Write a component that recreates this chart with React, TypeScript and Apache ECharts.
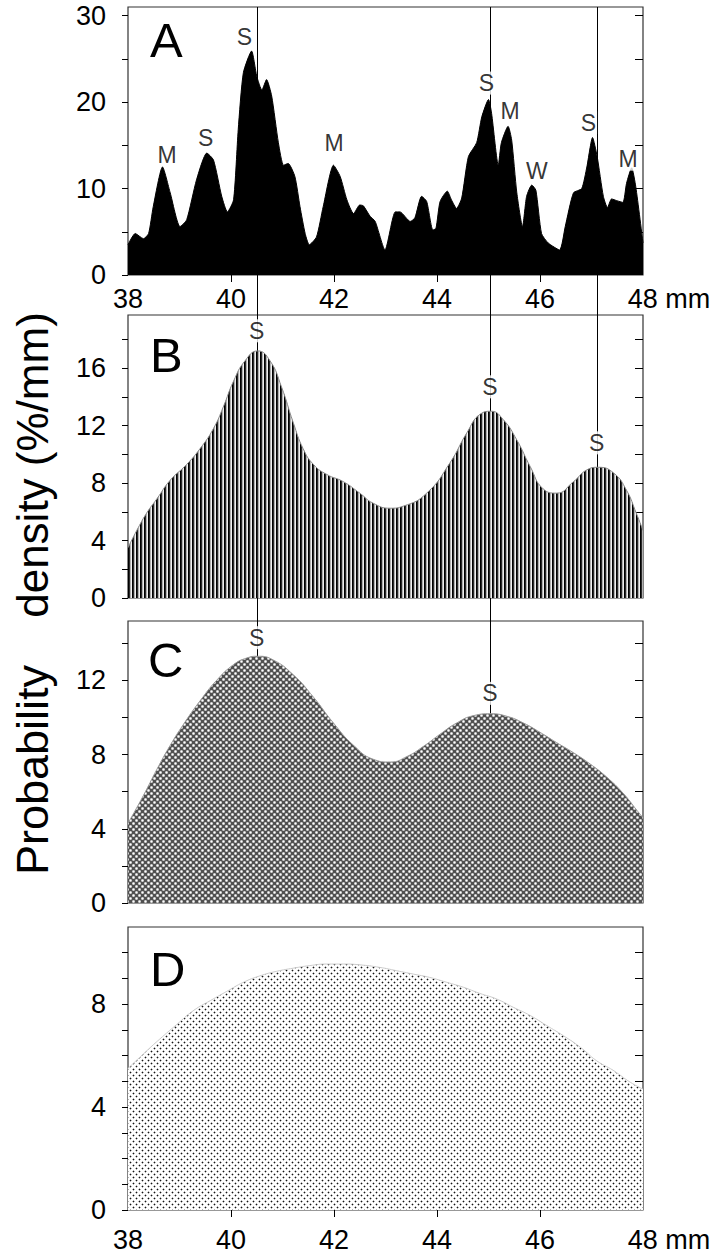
import React, { useEffect, useRef } from 'react';
import * as echarts from 'echarts';

// ---------- data ----------
const aX = [38.0, 38.14, 38.3, 38.4, 38.49, 38.67, 38.82, 39.01, 39.14, 39.33, 39.53, 39.66, 39.82, 39.93, 40.05, 40.14, 40.24, 40.4, 40.5, 40.6, 40.69, 40.79, 40.92, 41.02, 41.11, 41.24, 41.34, 41.44, 41.52, 41.66, 41.79, 41.99, 42.12, 42.25, 42.38, 42.5, 42.57, 42.7, 42.8, 42.99, 43.19, 43.28, 43.48, 43.57, 43.7, 43.8, 43.92, 43.98, 44.06, 44.2, 44.28, 44.38, 44.48, 44.61, 44.77, 44.87, 45.0, 45.06, 45.19, 45.25, 45.38, 45.45, 45.55, 45.66, 45.74, 45.84, 45.92, 46.03, 46.16, 46.38, 46.49, 46.65, 46.81, 46.91, 47.02, 47.11, 47.23, 47.31, 47.39, 47.49, 47.61, 47.68, 47.78, 47.86, 48.0];
const aY = [3.5, 4.8, 4.2, 4.8, 7.9, 12.5, 9.5, 5.6, 6.4, 11.0, 14.1, 13.3, 9.1, 7.3, 8.7, 16.8, 23.4, 25.9, 23.0, 21.4, 22.6, 20.7, 15.3, 12.7, 12.9, 11.4, 7.9, 4.8, 3.5, 4.4, 7.9, 12.7, 11.4, 8.7, 7.1, 8.1, 8.0, 6.8, 6.2, 2.9, 7.3, 7.3, 6.2, 6.6, 9.1, 8.5, 5.2, 5.4, 8.5, 9.7, 8.7, 7.7, 8.9, 13.7, 15.3, 18.3, 20.3, 18.7, 12.7, 15.3, 17.2, 15.6, 9.5, 5.6, 9.1, 10.4, 9.8, 4.8, 3.7, 2.9, 5.6, 9.5, 10.0, 12.5, 15.9, 13.7, 9.1, 7.8, 8.8, 8.6, 8.4, 10.6, 12.4, 10.2, 3.7];

const bX = [38.0, 38.17, 38.36, 38.56, 38.82, 39.14, 39.4, 39.66, 39.85, 40.05, 40.27, 40.52, 40.76, 40.98, 41.21, 41.4, 41.6, 41.86, 42.18, 42.5, 42.76, 43.09, 43.35, 43.8, 44.25, 44.58, 44.84, 45.05, 45.29, 45.55, 45.81, 46.06, 46.32, 46.65, 46.9, 47.13, 47.43, 47.68, 47.87, 48.0];
const bY = [3.5, 4.7, 5.9, 6.9, 8.2, 9.3, 10.4, 11.8, 13.3, 15.1, 16.5, 17.2, 16.5, 14.7, 12.2, 10.4, 9.3, 8.6, 8.1, 7.3, 6.6, 6.25, 6.4, 7.3, 9.4, 11.5, 12.8, 13.0, 12.4, 11.0, 9.15, 7.6, 7.3, 8.1, 8.9, 9.1, 8.7, 7.5, 5.9, 4.7];

const cX = [38.0, 38.3, 38.56, 38.82, 39.07, 39.4, 39.72, 40.05, 40.3, 40.52, 40.82, 41.21, 41.6, 41.99, 42.38, 42.76, 43.09, 43.42, 43.74, 44.06, 44.38, 44.71, 45.04, 45.35, 45.68, 46.0, 46.32, 46.65, 46.97, 47.29, 47.62, 47.88, 48.0];
const cY = [4.3, 5.8, 7.2, 8.5, 9.6, 10.9, 12.0, 12.85, 13.2, 13.3, 13.1, 12.3, 11.1, 9.7, 8.5, 7.75, 7.6, 7.9, 8.45, 9.1, 9.7, 10.1, 10.2, 10.07, 9.7, 9.2, 8.65, 8.1, 7.5, 6.8, 5.9, 5.0, 4.6];

const dX = [38.0, 38.3, 38.62, 38.94, 39.27, 39.6, 39.92, 40.24, 40.56, 40.89, 41.21, 41.53, 41.86, 42.18, 42.5, 42.89, 43.22, 43.54, 43.86, 44.19, 44.51, 44.83, 45.16, 45.48, 45.81, 46.13, 46.45, 46.78, 47.1, 47.42, 47.75, 48.0];
const dY = [5.5, 6.07, 6.65, 7.2, 7.75, 8.14, 8.5, 8.85, 9.1, 9.28, 9.4, 9.5, 9.56, 9.56, 9.53, 9.43, 9.3, 9.17, 9.04, 8.85, 8.66, 8.42, 8.2, 7.88, 7.56, 7.17, 6.78, 6.33, 5.8, 5.43, 4.97, 4.7];

const xLabelValues = [38, 40, 42, 44, 46, 48];
const xTickValues = [40, 42, 44, 46];
const yMaxes = [31, 19.7, 15.2, 11];
const yLabelValues = [[0, 10, 20, 30], [0, 4, 8, 12, 16], [0, 4, 8, 12], [0, 4, 8]];
const yLeftTicks = [[0, 5, 10, 15, 20, 25, 30], [0, 2, 4, 6, 8, 10, 12, 14, 16, 18], [0, 2, 4, 6, 8, 10, 12, 14], [0, 1, 2, 3, 4, 5, 6, 7, 8, 9, 10]];
const yRightTicks = [[5, 10, 15, 20, 25, 30], [2, 4, 6, 8, 10, 12, 14, 16, 18], [2, 4, 6, 8, 10, 12, 14], [1, 2, 3, 4, 5, 6, 7, 8, 9, 10]];
const panelLetters = ['A', 'B', 'C', 'D'];

const aPeakNames = ['M', 'S', 'S', 'M', 'S', 'M', 'W', 'S', 'M'];
const aPeakX = [38.76, 39.51, 40.26, 42.0, 44.96, 45.42, 45.94, 46.94, 47.71];
const aPeakY = [13.9, 15.9, 27.5, 15.3, 22.2, 19.0, 12.05, 17.6, 13.4];
const bPeakX = [40.5, 45.03, 47.1];
const bPeakY = [18.6, 14.7, 10.8];
const cPeakX = [40.5, 45.03];
const cPeakY = [14.3, 11.3];

const markerX = [40.5, 45.03, 47.1];
const markerEndPanel = [2, 2, 1];
const markerEndY = [13.3, 10.2, 9.1];

const yTitleTop = 'density (%/mm)';
const yTitleBottom = 'Probability';

const FONT = '"Liberation Sans", Arial, Helvetica, sans-serif';

function zip(xs: number[], ys: number[]) {
  return xs.map((x, i) => [x, ys[i]]);
}

function makeTile(w: number, h: number, colors: string[]): string {
  const c = document.createElement('canvas');
  c.width = w;
  c.height = h;
  const ctx = c.getContext('2d')!;
  for (let y = 0; y < h; y++) {
    for (let x = 0; x < w; x++) {
      ctx.fillStyle = colors[y * w + x];
      ctx.fillRect(x, y, 1, 1);
    }
  }
  return c.toDataURL('image/png');
}

function stripeTile() {
  return makeTile(4, 1, ['#000', '#2a2a2a', '#b0b0b0', '#f0f0f0']);
}
function checkTile() {
  // white "+" crosses on a dark field, diagonal lattice
  const w = 6, h = 6;
  const cols: string[] = new Array(w * h).fill('#505050');
  const put = (x: number, y: number, col: string) => {
    const xx = (x + w) % w, yy = (y + h) % h;
    cols[yy * w + xx] = col;
  };
  for (const [cx, cy] of [[1, 1], [4, 4]]) {
    put(cx - 1, cy - 1, '#949494'); put(cx + 1, cy - 1, '#949494');
    put(cx - 1, cy + 1, '#949494'); put(cx + 1, cy + 1, '#949494');
    put(cx - 1, cy, '#cfcfcf'); put(cx + 1, cy, '#cfcfcf');
    put(cx, cy - 1, '#cfcfcf'); put(cx, cy + 1, '#cfcfcf');
    put(cx, cy, '#fff');
  }
  return makeTile(w, h, cols);
}
function dotTile() {
  const w = 6, h = 6;
  const cols: string[] = new Array(w * h).fill('#fff');
  const put = (x: number, y: number, col: string) => {
    const xx = (x + w) % w, yy = (y + h) % h;
    cols[yy * w + xx] = col;
  };
  for (const [cx, cy] of [[1, 1], [4, 4]]) {
    put(cx - 1, cy, '#b5b5b5'); put(cx + 1, cy, '#b5b5b5');
    put(cx, cy - 1, '#b5b5b5'); put(cx, cy + 1, '#b5b5b5');
    put(cx, cy, '#141414');
  }
  return makeTile(w, h, cols);
}

export default function App() {
  const ref = useRef<HTMLDivElement>(null);
  useEffect(() => {
    document.body.style.margin = '0';
    const chart = echarts.init(ref.current!, null, { renderer: 'svg' });

    const grids = [
      { left: 128, top: 7, width: 515, height: 268 },
      { left: 128, top: 315, width: 515, height: 283 },
      { left: 128, top: 621, width: 515, height: 282 },
      { left: 128, top: 927, width: 515, height: 283 },
    ].map((g) => ({ ...g, show: true, borderColor: '#333', borderWidth: 1.2, backgroundColor: 'transparent', containLabel: false }));

    const xAxes = [0, 1, 2, 3].map((i) => {
      const withLabels = i === 0 || i === 3;
      return {
        type: 'value', gridIndex: i, min: 38, max: 48, interval: 2,
        axisLine: { show: false },
        splitLine: { show: false },
        axisTick: withLabels
          ? { show: true, length: 7, customValues: xTickValues, lineStyle: { color: '#000', width: 1 } }
          : { show: false },
        axisLabel: withLabels
          ? {
              show: true, customValues: xLabelValues, margin: i === 0 ? 10 : 16,
              fontSize: 27, color: '#000', fontFamily: FONT,
              formatter: (v: number) => (v === 48 ? '{pad|\u00a0}48 mm' : String(v)),
              rich: { pad: { width: 52, fontSize: 27, fontFamily: FONT } },
            }
          : { show: false },
      };
    });

    const yAxes: any[] = [];
    [0, 1, 2, 3].forEach((i) => {
      yAxes.push({
        type: 'value', gridIndex: i, min: 0, max: yMaxes[i], position: 'left',
        axisLine: { show: false }, splitLine: { show: false },
        axisTick: { show: true, length: 6, customValues: yLeftTicks[i], lineStyle: { color: '#000', width: 1 } },
        axisLabel: { show: true, customValues: yLabelValues[i], margin: 22, fontSize: 27, color: '#000', fontFamily: FONT },
      });
      yAxes.push({
        type: 'value', gridIndex: i, min: 0, max: yMaxes[i], position: 'right',
        axisLine: { show: false }, splitLine: { show: false },
        axisTick: { show: true, inside: true, length: 8, customValues: yRightTicks[i], lineStyle: { color: '#000', width: 1 } },
        axisLabel: { show: false },
      });
    });

    const pattern = (img: string, w: number, h: number) => ({ image: img, repeat: 'repeat', imageWidth: w, imageHeight: h });

    const labelSeries = (xi: number, yi: number, xs: number[], ys: number[], names: string[]) => ({
      type: 'scatter', xAxisIndex: xi, yAxisIndex: yi, z: 10, clip: false,
      symbolSize: 1, itemStyle: { color: 'rgba(0,0,0,0)' },
      data: xs.map((x, k) => ({ name: names[k], value: [x, ys[k]] })),
      label: {
        show: true, position: 'inside', formatter: '{b}', fontSize: 23, color: '#000', fontFamily: FONT,
        backgroundColor: '#fff', padding: [1, 1], lineHeight: 21,
      },
      emphasis: { disabled: true },
    });

    chart.setOption({
      animation: false,
      backgroundColor: '#fff',
      grid: grids,
      xAxis: xAxes,
      yAxis: yAxes,
      series: [
        {
          type: 'line', xAxisIndex: 0, yAxisIndex: 0, data: zip(aX, aY), smooth: 0.2, symbol: 'none',
          lineStyle: { color: '#000', width: 1 }, areaStyle: { color: '#000', opacity: 1 }, z: 2,
        },
        {
          type: 'line', xAxisIndex: 1, yAxisIndex: 2, data: zip(bX, bY), smooth: 0.5, symbol: 'none',
          lineStyle: { color: '#888', width: 1 }, areaStyle: { color: pattern(stripeTile(), 4, 1), opacity: 1 }, z: 2,
        },
        {
          type: 'line', xAxisIndex: 2, yAxisIndex: 4, data: zip(cX, cY), smooth: 0.5, symbol: 'none',
          lineStyle: { color: '#999', width: 1 }, areaStyle: { color: pattern(checkTile(), 6, 6), opacity: 1 }, z: 2,
        },
        {
          type: 'line', xAxisIndex: 3, yAxisIndex: 6, data: zip(dX, dY), smooth: 0.5, symbol: 'none',
          lineStyle: { color: '#ccc', width: 1 }, areaStyle: { color: pattern(dotTile(), 6, 6), opacity: 1 }, z: 2,
        },
        labelSeries(0, 0, aPeakX, aPeakY, aPeakNames),
        labelSeries(1, 2, bPeakX, bPeakY, bPeakX.map(() => 'S')),
        labelSeries(2, 4, cPeakX, cPeakY, cPeakX.map(() => 'S')),
      ],
    });

    // graphics: panel letters, axis title, vertical marker lines
    const graphics: any[] = [];
    const letterPos = [[150, 39.5], [150, 355], [148, 659.5], [150, 968.5]];
    panelLetters.forEach((t, i) => {
      graphics.push({
        type: 'text', x: letterPos[i][0], y: letterPos[i][1], z: 20,
        style: { text: t, font: `49px ${FONT}`, fill: '#000', textAlign: 'left', textVerticalAlign: 'middle', align: 'left', verticalAlign: 'middle' },
      });
    });
    graphics.push({
      type: 'text', x: 32, y: 465, rotation: Math.PI / 2, z: 20,
      style: { text: yTitleTop, font: `44px ${FONT}`, fill: '#000', textAlign: 'center', textVerticalAlign: 'middle', align: 'center', verticalAlign: 'middle' },
    });
    graphics.push({
      type: 'text', x: 32, y: 770, rotation: Math.PI / 2, z: 20,
      style: { text: yTitleBottom, font: `45px ${FONT}`, fill: '#000', textAlign: 'center', textVerticalAlign: 'middle', align: 'center', verticalAlign: 'middle' },
    });
    markerX.forEach((mx, k) => {
      const top = chart.convertToPixel({ gridIndex: 0 } as any, [mx, yMaxes[0]]) as number[];
      const end = chart.convertToPixel({ gridIndex: markerEndPanel[k] } as any, [mx, markerEndY[k]]) as number[];
      graphics.push({
        type: 'line', z: 1,
        shape: { x1: Math.round(top[0]) + 0.5, y1: top[1], x2: Math.round(top[0]) + 0.5, y2: end[1] },
        style: { stroke: '#000', lineWidth: 1 },
      });
    });
    chart.setOption({ graphic: graphics });

    return () => chart.dispose();
  }, []);
  return <div ref={ref} style={{ position: 'fixed', left: 0, top: 0, width: 720, height: 1254 }} />;
}
